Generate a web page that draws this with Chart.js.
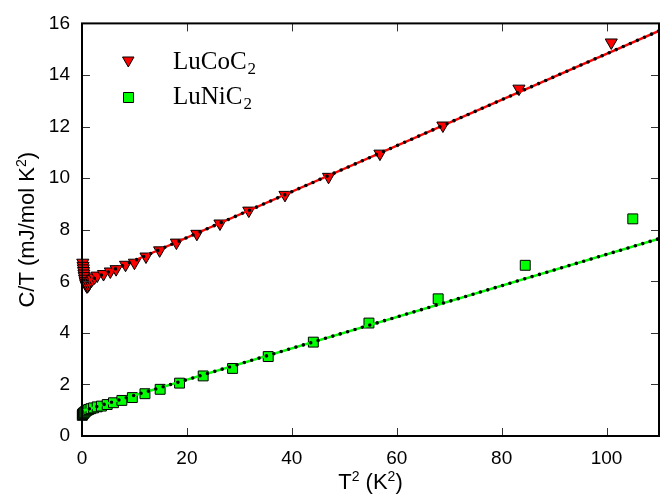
<!DOCTYPE html>
<html>
<head>
<meta charset="utf-8">
<script src="https://cdn.jsdelivr.net/npm/chart.js@4.4.1/dist/chart.umd.min.js"></script>
<style>
  html, body { margin: 0; padding: 0; background: #fff; }
  #wrap { width: 660px; height: 500px; }
</style>
</head>
<body>
<div id="wrap"><canvas id="c" width="660" height="500"></canvas></div>
<script>
// Specific heat C/T versus T^2 for two carbides.
const coT2 = [0.15, 0.2, 0.25, 0.3, 0.36, 0.42, 0.5, 0.6, 0.7, 0.82, 0.95, 1.1, 1.3, 1.5, 1.75, 2.0, 2.4,
              2.9, 4.1, 5.4, 6.5, 8.3, 10.0, 12.2, 14.8, 18.0, 21.9, 26.3, 31.8, 38.7, 47.0, 56.8, 68.8, 83.3, 100.9];
const coCT = [6.72, 6.6, 6.5, 6.4, 6.3, 6.2, 6.1, 6.0, 5.92, 5.85, 5.8, 5.82, 5.88, 5.95, 6.02, 6.08, 6.15,
              6.22, 6.28, 6.38, 6.47, 6.64, 6.72, 6.96, 7.2, 7.5, 7.84, 8.24, 8.74, 9.35, 10.05, 10.95, 12.04, 13.47, 15.26];

const niT2 = [0.05, 0.1, 0.15, 0.2, 0.3, 0.4, 0.55, 0.75, 1.0, 1.3, 1.7, 2.2, 2.9, 3.7, 4.8, 6.0, 7.6,
              9.6, 12.0, 14.9, 18.6, 23.1, 28.7, 35.5, 44.1, 54.7, 67.9, 84.5, 105.0];
const niCT = [0.8, 0.83, 0.85, 0.86, 0.88, 0.9, 0.93, 0.97, 1.0, 1.03, 1.06, 1.09, 1.13, 1.16, 1.22, 1.29, 1.38,
              1.49, 1.64, 1.81, 2.05, 2.33, 2.62, 3.08, 3.64, 4.38, 5.32, 6.62, 8.42];

// Linear fits C/T = gamma + beta*T^2, given by their end points
const coFitT2 = [1.0, 110];
const coFitCT = [6.0, 15.71];
const niFitT2 = [0, 110];
const niFitCT = [0.97, 7.65];

const xTicks = [0, 20, 40, 60, 80, 100];
const yTicks = [0, 2, 4, 6, 8, 10, 12, 14, 16];

const seriesNames = ['LuCoC', 'LuNiC'];
// titles as [text, isSuperscript] runs
const xTitle = [['T', false], ['2', true], [' (K', false], ['2', true], [')', false]];
const yTitle = [['C/T (mJ/mol K', false], ['2', true], [')', false]];

const RED = '#ff0000';
const GREEN = '#00ff00';

const pts = (xs, ys) => xs.map((x, i) => ({ x: x, y: ys[i] }));

function fitDots(xs, ys) {
  return {
    type: 'line', data: pts(xs, ys), showLine: true, pointRadius: 0,
    borderColor: '#000', borderWidth: 3.6, borderDash: [0, 7.7],
    borderCapStyle: 'round', fill: false, tension: 0
  };
}
function fitLine(xs, ys, color) {
  return {
    type: 'line', data: pts(xs, ys), showLine: true, pointRadius: 0,
    borderColor: color, borderWidth: 2.4, fill: false, tension: 0
  };
}

const TITLE_FONT = '22px "Liberation Sans", Arial, sans-serif';
const SUP_FONT = '14px "Liberation Sans", Arial, sans-serif';

function runsWidth(ctx, runs) {
  let w = 0;
  runs.forEach(([t, sup]) => { ctx.font = sup ? SUP_FONT : TITLE_FONT; w += ctx.measureText(t).width; });
  return w;
}
function drawRuns(ctx, runs, cx, baseline) {
  let x = cx - runsWidth(ctx, runs) / 2;
  ctx.textAlign = 'left';
  ctx.textBaseline = 'alphabetic';
  runs.forEach(([t, sup]) => {
    ctx.font = sup ? SUP_FONT : TITLE_FONT;
    ctx.fillText(t, x, sup ? baseline - 8 : baseline);
    x += ctx.measureText(t).width;
  });
}

// Frame with inward ticks on all four sides, axis titles and legend
const framePlugin = {
  id: 'frame',
  afterDraw(chart) {
    const { ctx, chartArea: a, scales } = chart;
    const xs = scales.x, ys = scales.y;
    ctx.save();
    ctx.strokeStyle = '#333';
    ctx.lineWidth = 1;
    const tl = 8;
    ctx.beginPath();
    xTicks.forEach(v => {
      const px = Math.round(xs.getPixelForValue(v)) + 0.5;
      ctx.moveTo(px, a.bottom); ctx.lineTo(px, a.bottom - tl);
      ctx.moveTo(px, a.top); ctx.lineTo(px, a.top + tl);
    });
    yTicks.forEach(v => {
      const py = Math.round(ys.getPixelForValue(v)) + 0.5;
      ctx.moveTo(a.left, py); ctx.lineTo(a.left + tl, py);
      ctx.moveTo(a.right, py); ctx.lineTo(a.right - tl, py);
    });
    ctx.stroke();
    ctx.strokeStyle = '#000';
    ctx.lineWidth = 2;
    ctx.strokeRect(a.left, a.top, a.right - a.left, a.bottom - a.top);

    // axis titles
    ctx.fillStyle = '#000';
    drawRuns(ctx, xTitle, (a.left + a.right) / 2, 489);
    ctx.save();
    ctx.translate(34, (a.top + a.bottom) / 2);
    ctx.rotate(-Math.PI / 2);
    drawRuns(ctx, yTitle, 0, 0);
    ctx.restore();

    // legend
    const rows = [
      { y: 62, name: seriesNames[0], style: 'tri', color: RED },
      { y: 97, name: seriesNames[1], style: 'sq', color: GREEN }
    ];
    rows.forEach(r => {
      ctx.fillStyle = r.color;
      ctx.strokeStyle = '#000';
      ctx.lineWidth = 1;
      ctx.beginPath();
      if (r.style === 'tri') {
        ctx.moveTo(122.5, 57); ctx.lineTo(134, 57); ctx.lineTo(128.3, 67);
        ctx.closePath();
      } else {
        ctx.rect(123.5, 92.5, 10, 10);
      }
      ctx.fill(); ctx.stroke();
      ctx.fillStyle = '#000';
      ctx.textAlign = 'left';
      ctx.textBaseline = 'alphabetic';
      ctx.font = '25px "Liberation Serif", "Times New Roman", serif';
      ctx.fillText(r.name, 173, r.y + 7);
      const w = ctx.measureText(r.name).width;
      ctx.font = '17px "Liberation Serif", "Times New Roman", serif';
      ctx.fillText('2', 173 + w + 1, r.y + 12);
    });
    ctx.restore();
  }
};

const tickFont = { family: '"Liberation Sans", Arial, sans-serif', size: 19 };
const noGrid = { display: false, drawTicks: false, tickLength: 0 };

new Chart(document.getElementById('c'), {
  type: 'scatter',
  data: {
    datasets: [
      fitDots(coFitT2, coFitCT),
      fitLine(coFitT2, coFitCT, RED),
      fitDots(niFitT2, niFitCT),
      fitLine(niFitT2, niFitCT, GREEN),
      {
        data: pts(coT2, coCT), pointStyle: 'triangle', rotation: 180, pointRadius: 7,
        backgroundColor: RED, borderColor: '#000', borderWidth: 1, clip: false
      },
      {
        data: pts(niT2, niCT), pointStyle: 'rect', pointRadius: 7,
        backgroundColor: GREEN, borderColor: '#000', borderWidth: 1, clip: false
      }
    ]
  },
  options: {
    responsive: false,
    animation: false,
    events: [],
    layout: { autoPadding: false, padding: { top: 20, right: 1, left: 0, bottom: 0 } },
    plugins: { legend: { display: false }, tooltip: { enabled: false } },
    scales: {
      x: {
        type: 'linear', min: 0, max: 110,
        grid: noGrid, border: { display: false },
        afterBuildTicks: s => { s.ticks = xTicks.map(v => ({ value: v })); },
        afterFit: s => { s.height = 64; },
        ticks: { font: tickFont, color: '#000', padding: 11, maxRotation: 0 }
      },
      y: {
        type: 'linear', min: 0, max: 16,
        grid: noGrid, border: { display: false },
        afterBuildTicks: s => { s.ticks = yTicks.map(v => ({ value: v })); },
        afterFit: s => { s.width = 82; },
        ticks: { font: tickFont, color: '#000', padding: 12 }
      }
    }
  },
  plugins: [framePlugin]
});
</script>
</body>
</html>
